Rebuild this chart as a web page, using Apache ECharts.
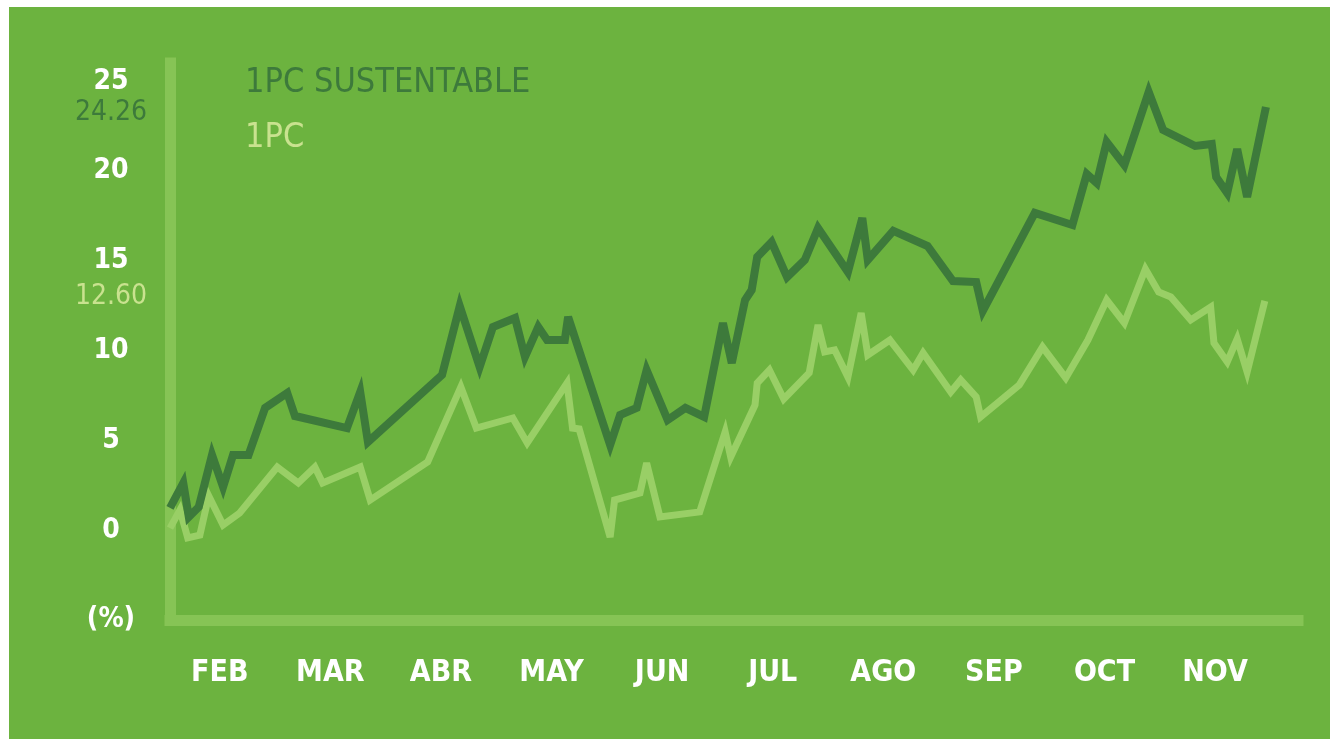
<!DOCTYPE html>
<html>
<head>
<meta charset="utf-8">
<script src="https://cdn.jsdelivr.net/npm/echarts@6/dist/echarts.min.js"></script>
<style>
  html, body { margin: 0; padding: 0; background: #ffffff; }
  #chart { position: absolute; left: 9px; top: 7px; width: 1321px; height: 732px; background: #6cb33f; }
</style>
</head>
<body>
<div id="chart"></div>
<script>
// month labels, x = 1 for FEB ... 10 for NOV
const months = ["FEB", "MAR", "ABR", "MAY", "JUN", "JUL", "AGO", "SEP", "OCT", "NOV"];
const yTicks = [-5, 0, 5, 10, 15, 20, 25];

// 1PC SUSTENTABLE, cumulative return (%)
const sustX = [0.55, 0.67, 0.72, 0.81, 0.93, 1.03, 1.12, 1.26, 1.41, 1.61, 1.68, 2.15, 2.27, 2.34, 3.01, 3.17,
  3.35, 3.47, 3.67, 3.76, 3.88, 3.96, 4.12, 4.15, 4.53, 4.62, 4.77, 4.86, 5.05, 5.21, 5.38, 5.55,
  5.63, 5.75, 5.81, 5.86, 5.99, 6.13, 6.29, 6.41, 6.68, 6.81, 6.86, 7.09, 7.40, 7.63, 7.84, 7.90,
  8.37, 8.71, 8.84, 8.93, 9.02, 9.18, 9.40, 9.53, 9.82, 9.97, 10.01, 10.11, 10.20, 10.29, 10.46];
const sustY = [1.24, 2.63, 0.74, 1.29, 4.19, 2.41, 4.19, 4.19, 6.81, 7.64, 6.36, 5.69, 7.70, 4.91, 8.65, 12.49,
  9.09, 11.32, 11.82, 9.65, 11.32, 10.59, 10.59, 11.88, 4.75, 6.42, 6.81, 8.92, 6.14, 6.81, 6.31, 11.54,
  9.31, 12.82, 13.38, 15.22, 16.05, 14.10, 15.05, 16.83, 14.38, 17.39, 15.05, 16.67, 15.83, 13.88, 13.82, 12.21,
  17.67, 17.00, 19.84, 19.34, 21.62, 20.34, 24.41, 22.29, 21.40, 21.51, 19.67, 18.78, 21.23, 18.56, 23.57];

// 1PC, cumulative return (%)
const ipcX = [0.55, 0.64, 0.71, 0.82, 0.90, 1.03, 1.18, 1.52, 1.71, 1.86, 1.93, 2.27, 2.36, 2.88, 3.18, 3.32,
  3.65, 3.78, 4.14, 4.19, 4.25, 4.53, 4.57, 4.80, 4.86, 4.98, 5.34, 5.57, 5.62, 5.84, 5.86, 5.97,
  6.10, 6.33, 6.41, 6.47, 6.56, 6.68, 6.80, 6.86, 7.06, 7.27, 7.36, 7.61, 7.70, 7.84, 7.88, 8.23,
  8.44, 8.65, 8.85, 9.02, 9.18, 9.37, 9.49, 9.60, 9.78, 9.96, 9.99, 10.11, 10.20, 10.29, 10.45];
const ipcY = [0.12, 1.13, -0.43, -0.27, 1.91, 0.29, 0.96, 3.52, 2.63, 3.52, 2.63, 3.52, 1.68, 3.80, 7.98, 5.69,
  6.25, 4.86, 8.20, 5.69, 5.64, -0.38, 1.68, 2.07, 3.74, 0.74, 1.02, 5.47, 4.08, 6.97, 8.20, 8.92,
  7.31, 8.76, 11.43, 9.93, 10.04, 8.53, 12.10, 9.76, 10.59, 8.92, 9.87, 7.70, 8.37, 7.42, 6.31, 8.09,
  10.20, 8.48, 10.59, 12.82, 11.54, 14.55, 13.27, 12.99, 11.71, 12.43, 10.43, 9.37, 10.65, 8.81, 12.77];

// closing values written beside the axis
const closeText = ["24.26", "12.60"];
const closePos = [23.25, 13.0];

const FONT = "'Liberation Sans Narrow', 'DejaVu Sans Condensed', 'Roboto Condensed', sans-serif";
const DARK = "#3d7a3b";
const LIGHT = "#99cf66";
const PALE = "#c9e28f";
const AXIS = "#86c455";

const chart = echarts.init(document.getElementById("chart"));
chart.setOption({
  animation: false,
  legend: {
    orient: "vertical",
    left: 226,
    top: 52,
    icon: "none",
    itemWidth: 0,
    itemGap: 17,
    selectedMode: false,
    textStyle: { fontFamily: FONT, fontSize: 34, lineHeight: 38 },
    data: [
      { name: "1PC SUSTENTABLE", textStyle: { color: DARK } },
      { name: "1PC", textStyle: { color: PALE } },
    ],
  },
  grid: { left: 161, right: 32, top: 56, bottom: 119 },
  xAxis: {
    type: "value",
    min: 0.55,
    max: 10.75,
    splitLine: { show: false },
    axisTick: { show: false },
    axisLine: { show: true, onZero: false, lineStyle: { color: AXIS, width: 11, cap: "square" } },
    axisLabel: {
      customValues: months.map((m, i) => i + 1),
      formatter: (v) => months[Math.round(v) - 1],
      color: "#ffffff",
      fontFamily: FONT,
      fontWeight: "bold",
      fontSize: 30,
      margin: 38,
    },
  },
  yAxis: [
    {
      type: "value",
      min: -5,
      max: 26.02,
      splitLine: { show: false },
      axisTick: { show: false },
      axisLine: { show: true, onZero: false, lineStyle: { color: AXIS, width: 11, cap: "square" } },
      axisLabel: {
        customValues: yTicks,
        formatter: (v) => (v === -5 ? "(%)" : String(v)),
        color: "#ffffff",
        fontFamily: FONT,
        fontWeight: "bold",
        fontSize: 28,
        align: "center",
        margin: 59,
      },
    },
    {
      type: "value",
      position: "left",
      min: -5,
      max: 26.02,
      splitLine: { show: false },
      axisTick: { show: false },
      axisLine: { show: false },
      axisLabel: {
        customValues: closePos,
        formatter: (v) => "{c" + closePos.indexOf(v) + "|" + closeText[closePos.indexOf(v)] + "}",
        rich: {
          c0: { color: DARK, fontFamily: FONT, fontSize: 28 },
          c1: { color: PALE, fontFamily: FONT, fontSize: 28 },
        },
        align: "center",
        margin: 59,
      },
    },
  ],
  series: [
    {
      name: "1PC",
      type: "line",
      data: ipcX.map((x, i) => [x, ipcY[i]]),
      symbol: "none",
      clip: false,
      z: 2,
      lineStyle: { color: LIGHT, width: 7, join: "miter", miterLimit: 4 },
      itemStyle: { color: LIGHT },
    },
    {
      name: "1PC SUSTENTABLE",
      type: "line",
      data: sustX.map((x, i) => [x, sustY[i]]),
      symbol: "none",
      clip: false,
      z: 3,
      lineStyle: { color: DARK, width: 8, join: "miter", miterLimit: 4 },
      itemStyle: { color: DARK },
    },
  ],
});
</script>
</body>
</html>
